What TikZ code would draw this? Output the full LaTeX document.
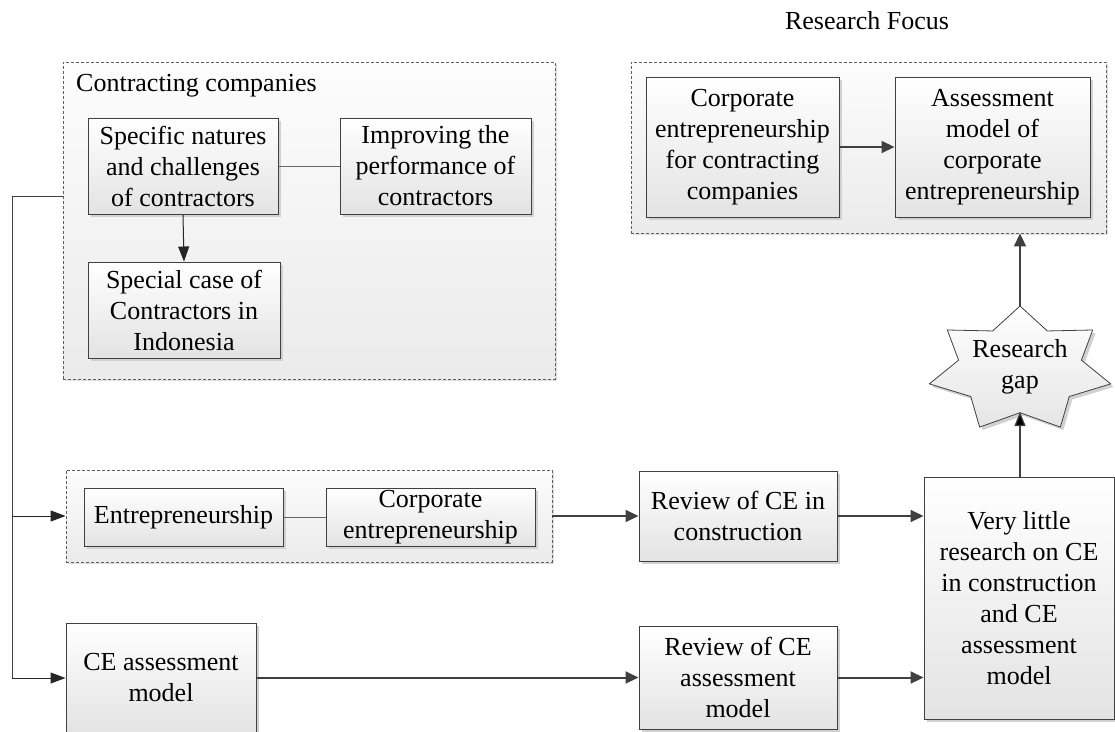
\documentclass[tikz,border=0pt]{standalone}
\usepackage{fontspec}
\setmainfont{Liberation Serif}
\usetikzlibrary{arrows.meta,shadows,calc}

\definecolor{edge}{HTML}{404040}
\definecolor{frame}{HTML}{606060}

\tikzset{
  every node/.style={font=\fontsize{26}{31}\selectfont},
  box/.style={draw=edge, line width=1pt, align=center, inner sep=2pt,
    top color=white, bottom color=black!11,
    drop shadow={shadow xshift=3pt, shadow yshift=-3pt, fill=black!18, opacity=1}},
  group/.style={draw=frame, line width=0.9pt, dash pattern=on 3pt off 2pt,
    top color=black!1, bottom color=black!8,
    drop shadow={shadow xshift=2pt, shadow yshift=-2pt, fill=black!12, opacity=1}},
  thinarrow/.style={draw=black!85, line width=1pt, -{Triangle[length=15pt,width=11pt]}},
  thickarrow/.style={draw=edge, line width=2pt, -{Triangle[length=13pt,width=12pt,fill=edge]}},
  plainlink/.style={draw=edge!80, line width=1pt},
}

\begin{document}
\begin{tikzpicture}[x=1pt, y=-1pt]
  \useasboundingbox (0,0) rectangle (1115,731);

  % heading
  \node (focus) at (867,21) {Research Focus};

  % group frames
  \node[group, minimum width=492pt, minimum height=317pt] (grp1) at (309,220.5) {};
  \node[group, minimum width=486pt, minimum height=92pt] (grp2) at (309,516) {};
  \node[group, minimum width=475pt, minimum height=171pt] (grp3) at (868.5,147.5) {};
  \node[anchor=west, inner sep=0pt] (grp1label) at (76,86) {Contracting companies};

  % contracting companies
  \node[box, minimum width=190pt, minimum height=96pt] (spec) at (183,166)
    {Specific natures\\and challenges\\of contractors};
  \node[box, minimum width=191pt, minimum height=96pt] (impr) at (435.5,166)
    {Improving the\\performance of\\contractors};
  \node[box, minimum width=192pt, minimum height=96pt] (spcase) at (184,310)
    {Special case of\\Contractors in\\Indonesia};

  % entrepreneurship row
  \node[box, minimum width=199pt, minimum height=58pt] (entre) at (183.5,517) {Entrepreneurship};
  \node[box, minimum width=209pt, minimum height=58pt] (corpent) at (430.5,517)
    {Corporate\\entrepreneurship};
  \node[box, minimum width=198pt, minimum height=90pt] (rev1) at (738,516)
    {Review of CE in\\construction};

  % assessment row
  \node[box, minimum width=190pt, minimum height=110pt] (ceam) at (161,678)
    {CE assessment\\model};
  \node[box, minimum width=198pt, minimum height=103pt] (rev2) at (738,677.5)
    {Review of CE\\assessment\\model};

  % conclusion
  \node[box, minimum width=190pt, minimum height=242pt] (vlit) at (1019,598)
    {Very little\\research on CE\\in construction\\and CE\\assessment\\model};

  % research focus
  \node[box, minimum width=193pt, minimum height=140pt] (cefc) at (742.5,147)
    {Corporate\\entrepreneurship\\for contracting\\companies};
  \node[box, minimum width=195pt, minimum height=140pt] (asmt) at (992.5,147)
    {Assessment\\model of\\corporate\\entrepreneurship};

  % research gap star (seven points, stretched sideways)
  \begin{scope}[shift={(1020,369.7)}]
    \draw[draw=edge, line width=0.8pt, top color=white, bottom color=black!10,
      drop shadow={shadow xshift=3pt, shadow yshift=-3pt, fill=black!18, opacity=1}]
      (-90:93 and 63.7)
      \foreach \k in {0,...,6} {
        -- ({-90+\k*51.4286+25.7143}:63 and 43)
        -- ({-90+(\k+1)*51.4286}:93 and 63.7)
      } -- cycle;
  \end{scope}
  \node[align=center, inner sep=0pt] (gap) at (1020,367) {Research\\gap};
  \coordinate (gaptop) at (1020,306);
  \coordinate (gapbottom) at (1020,412);

  % links inside groups
  \draw[plainlink] (spec.east) -- (impr.west);
  \draw[plainlink] (entre.east) -- (corpent.west);
  \draw[thinarrow] (spec.south) -- (spcase.north);

  % left bus
  \coordinate (bus) at (12,196);
  \draw[draw=black!75, line width=1pt] (grp1.west |- bus) -- (bus) -- (bus |- ceam);
  \draw[thinarrow] (bus |- grp2) -- (grp2.west);
  \draw[thinarrow] (bus |- ceam) -- (ceam.west);

  % main flows
  \draw[thickarrow] (grp2.east) -- (rev1.west);
  \draw[thickarrow] (rev1.east) -- (vlit.west |- rev1);
  \draw[thickarrow] (ceam.east |- rev2) -- (rev2.west);
  \draw[thickarrow] (rev2.east) -- (vlit.west |- rev2);
  \draw[draw=edge, line width=1.2pt, -{Triangle[length=14pt,width=11pt,fill=black]}]
    (vlit.north -| gapbottom) -- (gapbottom);
  \draw[thickarrow] (gaptop) -- (gaptop |- grp3.south);
  \draw[thickarrow] (cefc.east) -- (asmt.west);
\end{tikzpicture}
\end{document}
